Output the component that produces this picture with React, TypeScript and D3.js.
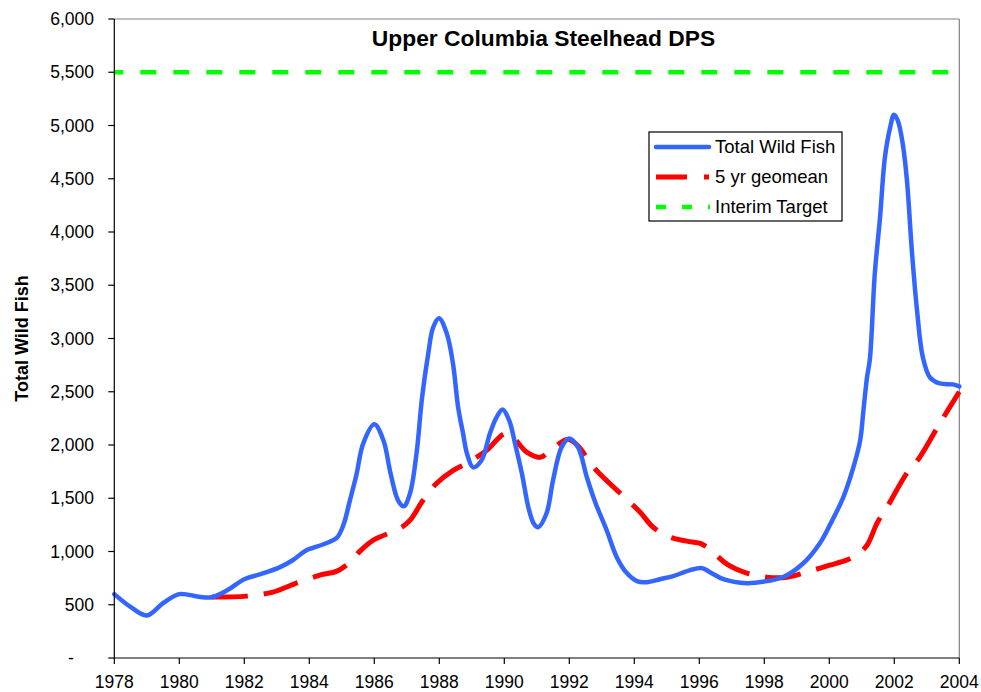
import React from "react";
import * as d3 from "d3";

const title = "Upper Columbia Steelhead DPS";
const yAxisTitle = "Total Wild Fish";
const xTickYears = [1978, 1980, 1982, 1984, 1986, 1988, 1990, 1992, 1994, 1996, 1998, 2000, 2002, 2004];
const yTickValues = [0, 500, 1000, 1500, 2000, 2500, 3000, 3500, 4000, 4500, 5000, 5500, 6000];
const interimTarget = 5500;

const wildYears = [
  1978, 1978.5, 1979, 1979.5, 1980, 1980.6, 1981, 1981.5, 1982, 1982.5, 1983.1, 1983.5, 1983.9, 1984.5,
  1984.85, 1985.05, 1985.25, 1985.45, 1985.66, 1986.0, 1986.28, 1986.5, 1986.73, 1986.91, 1987.1, 1987.3,
  1987.47, 1987.66, 1987.81, 1987.99, 1988.23, 1988.42, 1988.58, 1988.73, 1988.85, 1989.04, 1989.3, 1989.56,
  1989.76, 1989.95, 1990.15, 1990.33, 1990.54, 1990.74, 1990.9, 1991.04, 1991.3, 1991.5, 1991.76, 1992.0,
  1992.27, 1992.54, 1992.8, 1993.15, 1993.46, 1993.77, 1994.08, 1994.38, 1994.79, 1995.2, 1995.72, 1996.08,
  1996.33, 1996.74, 1997.46, 1998.07, 1998.58, 1999.2, 1999.71, 2000.02, 2000.43, 2000.74, 2000.95, 2001.05,
  2001.16, 2001.25, 2001.4, 2001.56, 2001.71, 2001.87, 2001.99, 2002.11, 2002.26, 2002.39, 2002.54, 2002.7,
  2002.88, 2003.1, 2003.4, 2003.8, 2004,
];
const wildValues = [
  600, 480, 400, 515, 600, 575, 570, 640, 740, 787, 853, 920, 1010, 1075,
  1130, 1250, 1480, 1720, 2015, 2194, 2044, 1734, 1481, 1425, 1547, 1922,
  2447, 2859, 3103, 3190, 3047, 2766, 2353, 2110, 1922, 1790, 1856, 2110,
  2260, 2334, 2231, 2015, 1734, 1416, 1266, 1228, 1359, 1669, 1978, 2062,
  1978, 1697, 1460, 1200, 947, 797, 722, 712, 740, 769, 825, 844,
  806, 740, 703, 722, 760, 890, 1078, 1250, 1509, 1790, 2044, 2325,
  2634, 2810, 3609, 4134, 4697, 4978, 5100, 5044, 4828, 4481, 3825, 3262,
  2822, 2634, 2578, 2569, 2550,
];

const geoYears = [
  1981.0, 1982.07, 1982.88, 1983.6, 1984.33, 1984.85, 1985.25, 1985.56, 1985.97, 1986.8, 1987.1, 1987.5,
  1987.92, 1988.43, 1988.85, 1989.46, 1990.07, 1990.7, 1991.1, 1991.5, 1991.96, 1992.33, 1992.64, 1993.1,
  1993.7, 1994.18, 1994.58, 1995.1, 1995.61, 1996.08, 1996.42, 1996.85, 1997.46, 1998.07, 1998.69, 1999.5,
  2000.02, 2000.53, 2000.84, 2001.16, 2001.47, 2001.81, 2002.38, 2002.78, 2003.4, 2004,
];
const geoValues = [
  572, 581, 619, 703, 778, 816, 900, 1003, 1106, 1219, 1294, 1481,
  1641, 1762, 1828, 1950, 2110, 1931, 1884, 1969, 2053, 1970, 1828, 1680,
  1509, 1369, 1228, 1134, 1097, 1069, 994, 881, 797, 759, 759, 825,
  872, 919, 966, 1059, 1266, 1434, 1734, 1884, 2203, 2500,
];

const legendLabels = ["Total Wild Fish", "5 yr geomean", "Interim Target"];

export default function App() {
  const W = 981;
  const H = 692;
  const left = 114.3;
  const right = 959.3;
  const top = 19;
  const bottom = 658;

  const x = d3.scaleLinear().domain([1978, 2004]).range([left, right]);
  const y = d3.scaleLinear().domain([0, 6000]).range([bottom, top]);

  const line = d3
    .line<[number, number]>()
    .x((d) => x(d[0]))
    .y((d) => y(d[1]))
    .curve(d3.curveCatmullRom.alpha(0.5));

  const wild: [number, number][] = wildYears.map((yr, i) => [yr, wildValues[i]]);
  const geo: [number, number][] = geoYears.map((yr, i) => [yr, geoValues[i]]);

  const fmt = d3.format(",");
  const font = "Arial, 'Liberation Sans', Helvetica, sans-serif";

  const blue = "#3366ff";
  const red = "#ff0000";
  const green = "#00ff00";

  const lx = 649, ly = 132, lw = 193, lh = 89;
  const rowsY = [147, 177, 207];

  return (
    <svg
      width={W}
      height={H}
      style={{ position: "absolute", left: 0, top: 0, background: "#fff" }}
      fontFamily={font}
    >
      <rect x={0} y={0} width={W} height={H} fill="#fff" />
      <line x1={left} x2={right} y1={top} y2={top} stroke="#808080" strokeWidth={1.2} />
      <line x1={right} x2={right} y1={top} y2={bottom} stroke="#808080" strokeWidth={1.2} />

      <line
        x1={left}
        x2={right}
        y1={y(interimTarget)}
        y2={y(interimTarget)}
        stroke={green}
        strokeWidth={4.5}
        strokeDasharray="16 17"
        strokeDashoffset={7}
      />

      <path d={line(geo) || ""} fill="none" stroke={red} strokeWidth={5} strokeDasharray="36 16" />
      <path d={line(wild) || ""} fill="none" stroke={blue} strokeWidth={4.5} strokeLinejoin="round" strokeLinecap="round" />

      <line x1={left} x2={left} y1={top} y2={bottom} stroke="#000" strokeWidth={1.2} />
      <line x1={left} x2={right} y1={bottom} y2={bottom} stroke="#000" strokeWidth={1.2} />

      {yTickValues.map((v) => (
        <g key={"y" + v}>
          <line x1={left - 6} x2={left} y1={y(v)} y2={y(v)} stroke="#000" strokeWidth={1.2} />
          {v === 0 ? (
            <text x={71} y={y(v)} dy="0.35em" textAnchor="middle" fontSize={17.5} fill="#000">
              -
            </text>
          ) : (
            <text x={94} y={y(v)} dy="0.35em" textAnchor="end" fontSize={17.5} fill="#000">
              {fmt(v)}
            </text>
          )}
        </g>
      ))}

      {xTickYears.map((yr) => (
        <g key={"x" + yr}>
          <line x1={x(yr)} x2={x(yr)} y1={bottom} y2={bottom + 6} stroke="#000" strokeWidth={1.2} />
          <text x={x(yr)} y={688} textAnchor="middle" fontSize={17.5} fill="#000">
            {yr}
          </text>
        </g>
      ))}

      <text x={543.5} y={46} textAnchor="middle" fontSize={22.8} fontWeight="bold" fill="#000">
        {title}
      </text>

      <text
        transform={`translate(28, ${(top + bottom) / 2}) rotate(-90)`}
        textAnchor="middle"
        fontSize={18}
        fontWeight="bold"
        fill="#000"
      >
        {yAxisTitle}
      </text>

      <rect x={lx} y={ly} width={lw} height={lh} fill="#fff" stroke="#000" strokeWidth={1.2} />
      <line x1={656} x2={709} y1={rowsY[0]} y2={rowsY[0]} stroke={blue} strokeWidth={4.5} strokeLinecap="round" />
      <line x1={656} x2={709} y1={rowsY[1]} y2={rowsY[1]} stroke={red} strokeWidth={5} strokeDasharray="31 17" />
      <line x1={656} x2={710} y1={rowsY[2]} y2={rowsY[2]} stroke={green} strokeWidth={4.5} strokeDasharray="10 16" />
      {legendLabels.map((l, i) => (
        <text key={l} x={715} y={rowsY[i]} dy="0.35em" fontSize={18.5} fill="#000">
          {l}
        </text>
      ))}
    </svg>
  );
}
